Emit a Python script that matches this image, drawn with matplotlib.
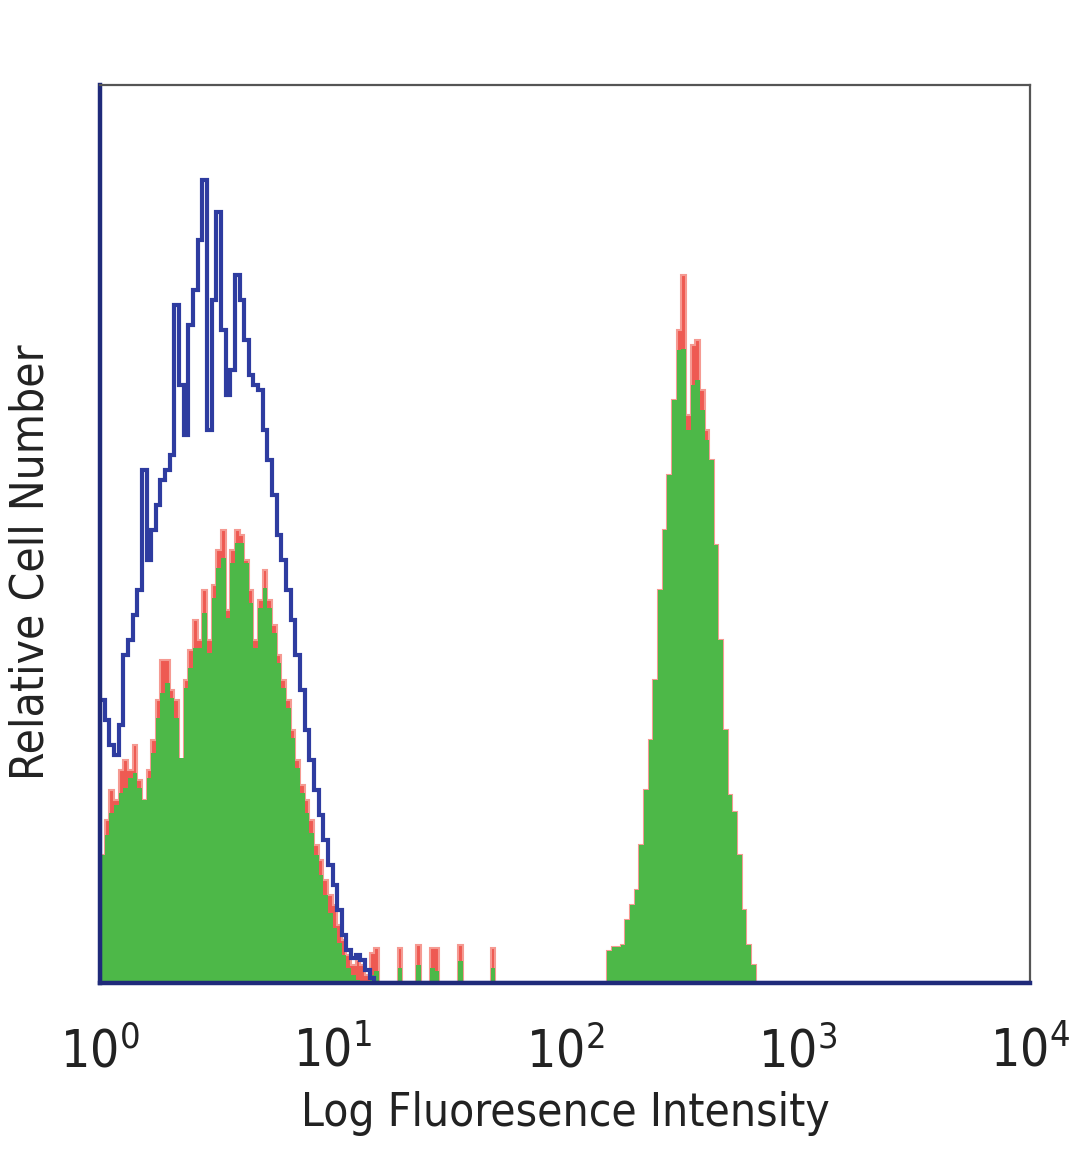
import numpy as np
import matplotlib
matplotlib.use("Agg")
import matplotlib.pyplot as plt
from matplotlib.ticker import NullLocator

plt.rcParams['font.family'] = ['DejaVu Sans']
plt.rcParams['font.stretch'] = 'condensed'
plt.rcParams['mathtext.fontset'] = 'custom'
plt.rcParams['mathtext.rm'] = 'DejaVu Sans:stretch=condensed'
plt.rcParams['mathtext.it'] = 'DejaVu Sans:stretch=condensed'

# 50 channels per decade, 4 decades
CH_PER_DECADE = 50
N_CH = 200

# blue (control) histogram, channels 0..58
blue_counts = [283, 263, 238, 228, 258, 328, 343, 368, 393, 513,
               423, 453, 478, 503, 513, 528, 678, 598, 548, 658,
               693, 743, 803, 553, 683, 771, 653, 588, 613, 708,
               683, 643, 608, 598, 593, 553, 523, 488, 448, 423,
               393, 363, 328, 293, 253, 223, 193, 168, 143, 118,
               98, 73, 48, 33, 25, 28, 23, 13, 5]

# red histogram, low peak channels 0..57
red_low = [128, 163, 193, 183, 213, 223, 213, 238, 203, 183,
           213, 243, 283, 323, 323, 293, 283, 218, 303, 333,
           363, 343, 393, 343, 398, 433, 453, 373, 433, 453,
           448, 423, 393, 343, 383, 413, 383, 358, 328, 303,
           283, 253, 223, 198, 183, 163, 138, 123, 103, 88,
           78, 58, 43, 28, 18, 23, 18, 8]
# green histogram, low peak channels 0..57
green_low = [128, 148, 170, 178, 190, 195, 205, 210, 195, 183,
             205, 230, 265, 290, 300, 285, 265, 225, 295, 315,
             335, 335, 370, 330, 385, 415, 425, 365, 420, 440,
             440, 420, 380, 335, 375, 395, 375, 350, 320, 295,
             275, 245, 215, 190, 170, 150, 128, 108, 88, 70,
             55, 40, 28, 15, 8, 3, 0, 0]

# sparse events between the peaks
bump_ch = [58, 59, 64, 68, 71, 72, 77, 84]
bump_red = [30, 35, 35, 38, 35, 35, 38, 35]
bump_green = [8, 12, 15, 18, 15, 12, 22, 15]

# high peak, channels 109..140
high_start = 109
red_high = [32, 36, 36, 38, 63, 78, 93, 138, 193, 243,
            303, 393, 453, 508, 583, 653, 708, 568, 638, 643,
            593, 553, 523, 438, 343, 253, 188, 171, 128, 73,
            38, 18]
green_high = [32, 36, 36, 38, 63, 78, 93, 138, 193, 243,
              303, 393, 453, 508, 583, 633, 634, 553, 598, 603,
              573, 543, 523, 438, 343, 253, 188, 171, 128, 73,
              38, 18]

xtick_vals = [1, 10, 100, 1000, 10000]
xtick_labels = [r'$10^{0}$', r'$10^{1}$', r'$10^{2}$', r'$10^{3}$', r'$10^{4}$']


def full(seg, start=0):
    arr = np.zeros(N_CH)
    arr[start:start + len(seg)] = seg
    return arr


edges = 10 ** (np.arange(N_CH + 1) / CH_PER_DECADE)
blue = full(blue_counts)
red = full(red_low) + full(red_high, high_start)
green = full(green_low) + full(green_high, high_start)
red[bump_ch] = bump_red
green[bump_ch] = bump_green

fig = plt.figure(figsize=(10.8, 11.69), dpi=100)
ax = fig.add_axes([100 / 1080, 1 - 983 / 1169, 930 / 1080, 898 / 1169])

ax.stairs(red, edges, fill=True, color='#ee5a52', zorder=1)
ax.stairs(red, edges, fill=False, color='#f59a92', lw=1.5, zorder=1)
ax.stairs(green, edges, fill=True, color='#4db848', zorder=2)
ax.stairs(blue, edges, fill=False, color='#2e3ca0', lw=3.0, zorder=3)

ax.set_xscale('log')
ax.set_xlim(1, 1e4)
ax.set_ylim(0, 898)
ax.set_xticks(xtick_vals, labels=xtick_labels)
ax.xaxis.set_minor_locator(NullLocator())
ax.set_yticks([])
ax.tick_params(axis='x', length=0, pad=32, labelsize=37, colors='#222222')

for side in ['left', 'bottom']:
    ax.spines[side].set_color('#1f2a7a')
    ax.spines[side].set_linewidth(3.2)
for side in ['top', 'right']:
    ax.spines[side].set_color('#555555')
    ax.spines[side].set_linewidth(1.6)
for sp in ax.spines.values():
    sp.set_zorder(5)

ax.set_xlabel('Log Fluoresence Intensity', fontsize=33, color='#222222', labelpad=9)
ax.set_ylabel('Relative Cell Number', fontsize=33, color='#222222')
ax.yaxis.set_label_coords(-0.05, 0.469)

fig.savefig('out.png', dpi=100)
